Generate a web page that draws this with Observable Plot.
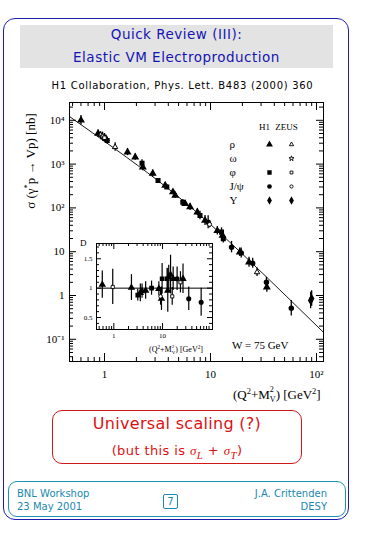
<!DOCTYPE html>
<html><head><meta charset="utf-8">
<script src="https://cdn.jsdelivr.net/npm/d3@7"></script>
<script src="https://cdn.jsdelivr.net/npm/@observablehq/plot@0.6"></script>
<style>
body{margin:0;background:#fff;width:365px;height:535px;position:relative;overflow:hidden;font-family:"DejaVu Sans",sans-serif;}
.abs{position:absolute;white-space:nowrap;line-height:1;}
.serif{font-family:"Liberation Serif",serif;}
.stk{display:inline-block;vertical-align:-0.3em;line-height:1.2;font-size:0.62em;text-align:left;}
.stk span{display:block;}
</style></head><body>
<div class="abs" style="left:3px;top:18px;width:344px;height:500px;border:1.5px solid #1c1cb0;border-radius:12px;"></div>
<div class="abs" style="left:20px;top:25px;width:313px;height:43px;background:#e3e3e3;"></div>
<div class="abs" style="left:20px;top:28px;width:313px;text-align:center;color:#1414b4;font-size:13.5px;letter-spacing:0.5px;">Quick Review (III):</div>
<div class="abs" style="left:20px;top:50.5px;width:313px;text-align:center;color:#1414b4;font-size:13.5px;letter-spacing:0.5px;">Elastic VM Electroproduction</div>
<div class="abs" style="left:20px;top:80.5px;width:325px;text-align:center;color:#000;font-size:10px;letter-spacing:0.7px;">H1 Collaboration, Phys. Lett. B483 (2000) 360</div>
<div class="abs serif" style="left:30px;top:161px;transform:translate(-50%,-50%) rotate(-90deg);font-size:13px;">σ (γ<sup style="font-size:0.65em">*</sup>p → Vp) [nb]</div>
<div id="main" class="abs" style="left:0;top:80px;"></div>
<div id="legend" class="abs" style="left:222px;top:112px;"></div>
<div id="inset" class="abs" style="left:70px;top:235px;"></div>
<div class="abs serif" style="left:80px;top:239px;font-size:9px;">D</div>
<div class="abs serif" style="left:149px;top:344px;font-size:8px;">(Q<sup style="font-size:0.65em">2</sup>+M<span class="stk"><span>2</span><span>V</span></span>) [GeV<sup style="font-size:0.65em">2</sup>]</div>
<div class="abs serif" style="left:232px;top:339.5px;font-size:11px;">W = 75 GeV</div>
<div class="abs serif" style="left:233px;top:385px;font-size:13px;">(Q<sup style="font-size:0.65em">2</sup>+M<span class="stk"><span>2</span><span>V</span></span>) [GeV<sup style="font-size:0.65em">2</sup>]</div>
<div class="abs" style="left:52px;top:410px;width:248px;height:52px;border:1.3px solid #d01818;border-radius:10px;"></div>
<div class="abs" style="left:52px;top:415.5px;width:250px;text-align:center;color:#dd1111;font-size:16px;letter-spacing:0.3px;">Universal scaling (?)</div>
<div class="abs" style="left:52px;top:444px;width:250px;text-align:center;color:#dd1111;font-size:13px;letter-spacing:0.4px;">(but this is <i class="serif">σ<sub>L</sub></i> + <i class="serif">σ<sub>T</sub></i>)</div>
<div class="abs" style="left:8px;top:481px;width:336px;height:34px;border:1.2px solid #2090b8;border-radius:9px;"></div>
<div class="abs" style="left:17px;top:489px;color:#1a88b0;font-size:10px;">BNL Workshop</div>
<div class="abs" style="left:17px;top:502px;color:#1a88b0;font-size:10px;">23 May 2001</div>
<div class="abs" style="left:163px;top:494px;width:13px;height:13px;border:1.2px solid #1a88b0;border-radius:2px;color:#1a88b0;font-size:10px;text-align:center;line-height:13px;">7</div>
<div class="abs" style="right:38px;top:489px;color:#1a88b0;font-size:10px;">J.A. Crittenden</div>
<div class="abs" style="right:38px;top:502px;color:#1a88b0;font-size:10px;">DESY</div>
<script>
// ---------- data ----------
const mainX   = [0.60, 0.87, 0.92, 0.96, 1.00, 1.03, 1.06, 1.26, 1.65, 1.95, 2.26, 2.30, 2.85, 3.20, 3.74, 3.87, 4.42, 4.65, 5.48, 5.77, 6.42, 7.52, 7.96, 8.88, 9.5, 9.8, 11.6, 12.7, 13.0, 13.2, 15.8, 18.9, 19.5, 23.1, 25.0, 27.5, 33.7, 34.0, 57.8, 88, 90];
const mainY   = [10000, 5000, 4600, 4300, 4000, 3800, 3460, 2450, 1870, 1440, 1050, 850, 610, 420, 325, 300, 230, 192, 135, 124, 105, 80, 67, 51.5, 47, 42, 30, 28, 23.5, 19.7, 12.7, 9.75, 9.3, 5.76, 5.45, 3.4, 2.0, 1.55, 0.51, 0.77, 0.85];
const mainErr = [0.28, 0.2, 0.2, 0.25, 0.25, 0.2, 0.2, 0.25, 0.2, 0.18, 0.2, 0.2, 0.2, 0.12, 0.12, 0.12, 0.15, 0.15, 0.15, 0.15, 0.2, 0.2, 0.25, 0.3, 0.4, 0.2, 0.25, 0.25, 0.3, 0.25, 0.35, 0.25, 0.3, 0.3, 0.3, 0.25, 0.3, 0.3, 0.5, 0.55, 0.5];
const mainVM  = ["rho","rho","rho","omega","phi","rho","phi","rho","rho","rho","phi","rho","rho","phi","rho","phi","rho","rho","phi","rho","rho","rho","phi","rho","jpsi","jpsi","rho","phi","rho","phi","jpsi","rho","jpsi","rho","jpsi","rho","jpsi","rho","jpsi","ups","ups"];
const mainExp = ["H1","H1","ZEUS","ZEUS","ZEUS","H1","H1","ZEUS","H1","H1","H1","H1","H1","H1","H1","H1","H1","H1","H1","H1","H1","H1","H1","H1","H1","ZEUS","H1","H1","H1","H1","H1","H1","H1","H1","H1","ZEUS","H1","H1","H1","ZEUS","H1"];

const fitX = [0.4677, 3.16, 15.2, 116];
const fitY = [12200, 427, 16.5, 0.145];

const insX = [0.58, 0.95, 2.3, 3.1, 3.5, 3.8, 4.5, 5.95, 8.4, 9.1, 9.5, 9.8, 12.4, 12.8, 13.4, 14.6, 15.8, 16.5, 19.9, 23.3, 26.3, 34.5, 62];
const insR = [1.06, 1.02, 1.01, 0.88, 0.92, 0.95, 0.96, 1.0, 0.99, 0.86, 0.82, 1.16, 1.16, 0.96, 1.19, 1.23, 0.86, 1.16, 1.16, 1.10, 1.16, 0.82, 0.76];
const insE = [0.23, 0.3, 0.22, 0.1, 0.15, 0.12, 0.15, 0.12, 0.12, 0.15, 0.2, 0.26, 0.18, 0.37, 0.2, 0.33, 0.15, 0.2, 0.2, 0.18, 0.25, 0.2, 0.24];
const insVM  = ["rho","phi","rho","phi","rho","rho","rho","phi","rho","jpsi","rho","phi","phi","rho","rho","rho","phi","rho","jpsi","phi","rho","jpsi","jpsi"];
const insExp = ["H1","ZEUS","H1","H1","H1","H1","H1","H1","H1","ZEUS","H1","H1","H1","H1","H1","H1","ZEUS","H1","H1","ZEUS","H1","H1","H1"];

const legendVM = ["rho","omega","phi","jpsi","ups"];
const legendNames = ["ρ","ω","φ","J/ψ","Υ"];
const legendExp = ["H1","ZEUS"];
const legendH1 = ["rho","phi","jpsi","ups"];
const legendZEUS = ["rho","omega","phi","jpsi","ups"];
const filledVM = ["ups"]; // ZEUS Upsilon drawn filled

const yTickValues = [0.1, 1, 10, 100, 1000, 10000];
const yTickLabels = ["10⁻¹", "1", "10", "10²", "10³", "10⁴"];
const xTickValues = [1, 10, 100];
const xTickLabels = ["1", "10", "10²"];
const insXTicks = [1, 10];
const insXLabels = ["1", "10"];
const insYTicks = [0.5, 1, 1.5];
const insYLabels = ["0.5", "1", "1.5"];

// ---------- helpers ----------
const symbolScale = {domain: legendVM, range: ["triangle", "star", "square", "circle", "diamond"]};
function minorLog(lo, hi, dmin, dmax) { const out = []; for (let e = lo; e <= hi; e++) for (let m = 2; m <= 9; m++) { const v = m * Math.pow(10, e); if (v > dmin && v < dmax) out.push(v); } return out; }
const isFilled = d => d.exp === "H1" || filledVM.includes(d.vm);

const mainData = mainX.map((x, i) => ({x, y: mainY[i], lo: mainY[i] / (1 + mainErr[i]), hi: mainY[i] * (1 + mainErr[i]), vm: mainVM[i], exp: mainExp[i]}));
const fitData = fitX.map((x, i) => ({x, y: fitY[i]}));
const insData = insX.map((x, i) => ({x, r: insR[i], lo: insR[i] - insE[i], hi: insR[i] + insE[i], vm: insVM[i], exp: insExp[i]}));

// ---------- main plot ----------
const W = 345, H = 330, ML = 69, MR = 22, MT = 22, MB = 49;
const FW = W - ML - MR, FH = H - MT - MB;
const xDom = [0.4677, 116.4], yDom = [0.0311, 25500];
const yMinor = minorLog(-2, 4, yDom[0], yDom[1]), xMinor = minorLog(-1, 2, xDom[0], xDom[1]);
const main = Plot.plot({
  width: W, height: H, marginLeft: ML, marginRight: MR, marginTop: MT, marginBottom: MB,
  x: {type: "log", domain: xDom},
  y: {type: "log", domain: yDom},
  symbol: symbolScale,
  style: {fontFamily: "Liberation Serif", fontSize: "11px", color: "#000", background: "transparent"},
  marks: [
    Plot.frame({stroke: "#000", strokeWidth: 1}),
    Plot.tickY(yTickValues, {y: d => d, insetRight: FW - 7}),
    Plot.tickY(yTickValues, {y: d => d, insetLeft: FW - 7}),
    Plot.tickY(yMinor, {y: d => d, insetRight: FW - 4}),
    Plot.tickY(yMinor, {y: d => d, insetLeft: FW - 4}),
    Plot.tickX(xTickValues, {x: d => d, insetTop: FH - 8}),
    Plot.tickX(xTickValues, {x: d => d, insetBottom: FH - 8}),
    Plot.tickX(xMinor, {x: d => d, insetTop: FH - 4}),
    Plot.tickX(xMinor, {x: d => d, insetBottom: FH - 4}),
    Plot.axisY({ticks: yTickValues, tickSize: 0, tickPadding: 5, tickFormat: d => yTickLabels[yTickValues.indexOf(d)], fontSize: 11, label: null}),
    Plot.axisX({ticks: xTickValues, tickSize: 0, tickPadding: 9, tickFormat: d => xTickLabels[xTickValues.indexOf(d)], fontSize: 11, label: null}),
    Plot.line(fitData, {x: "x", y: "y", curve: "natural", stroke: "#000", strokeWidth: 0.9}),
    Plot.ruleX(mainData, {x: "x", y1: "lo", y2: "hi", stroke: "#000", strokeWidth: 1.3}),
    Plot.dot(mainData.filter(isFilled), {x: "x", y: "y", symbol: "vm", r: 2, fill: "#000", stroke: "#000"}),
    Plot.dot(mainData.filter(d => !isFilled(d)), {x: "x", y: "y", symbol: "vm", r: 2, fill: "#fff", stroke: "#000", strokeWidth: 1})
  ]
});
document.getElementById("main").appendChild(main);

// ---------- legend ----------
const legRows = [
  ...legendH1.map(v => ({vm: v, exp: "H1"})),
  ...legendZEUS.map(v => ({vm: v, exp: "ZEUS"}))
];
const legend = Plot.plot({
  width: 80, height: 98.25, marginLeft: 35.5, marginRight: 0.5, marginTop: 23.75, marginBottom: 2,
  x: {type: "band", domain: legendExp, padding: 0},
  y: {type: "band", domain: legendVM, padding: 0},
  symbol: symbolScale,
  style: {fontFamily: "Liberation Serif", color: "#000", background: "transparent", overflow: "visible"},
  marks: [
    Plot.axisX({anchor: "top", tickSize: 0, tickPadding: 6, dx: -5, fontSize: 9, label: null}),
    Plot.axisY({anchor: "left", tickSize: 0, tickPadding: 0, dx: -28.5, textAnchor: "start", fontSize: 11, label: null,
      tickFormat: d => legendNames[legendVM.indexOf(d)]}),
    Plot.dot(legRows.filter(isFilled), {x: "exp", y: "vm", symbol: "vm", r: 1.6, fill: "#000", stroke: "#000"}),
    Plot.dot(legRows.filter(d => !isFilled(d)), {x: "exp", y: "vm", symbol: "vm", r: 1.6, fill: "#fff", stroke: "#000", strokeWidth: 0.9})
  ]
});
document.getElementById("legend").appendChild(legend);

// ---------- inset ----------
const IW = 150, IH = 110, IML = 26, IMR = 8, IMT = 8, IMB = 16;
const IFW = IW - IML - IMR, IFH = IH - IMT - IMB;
const insXDom = [0.441, 106], insYDom = [0.296, 1.76];
const insYMinor = [0.4, 0.6, 0.7, 0.8, 0.9, 1.1, 1.2, 1.3, 1.4, 1.6, 1.7];
const insXMinor = minorLog(-1, 2, insXDom[0], insXDom[1]);
const inset = Plot.plot({
  width: IW, height: IH, marginLeft: IML, marginRight: IMR, marginTop: IMT, marginBottom: IMB,
  x: {type: "log", domain: insXDom},
  y: {domain: insYDom},
  symbol: symbolScale,
  style: {fontFamily: "Liberation Serif", color: "#000", background: "transparent"},
  marks: [
    Plot.frame({stroke: "#000", strokeWidth: 1, fill: "#fff"}),
    Plot.tickY(insYTicks, {y: d => d, insetRight: IFW - 5}),
    Plot.tickY(insYTicks, {y: d => d, insetLeft: IFW - 5}),
    Plot.tickY(insYMinor, {y: d => d, insetRight: IFW - 3}),
    Plot.tickY(insYMinor, {y: d => d, insetLeft: IFW - 3}),
    Plot.tickX(insXTicks, {x: d => d, insetTop: IFH - 6}),
    Plot.tickX(insXTicks, {x: d => d, insetBottom: IFH - 6}),
    Plot.tickX(insXMinor, {x: d => d, insetTop: IFH - 3}),
    Plot.tickX(insXMinor, {x: d => d, insetBottom: IFH - 3}),
    Plot.axisY({ticks: insYTicks, tickSize: 0, tickPadding: 4, tickFormat: d => insYLabels[insYTicks.indexOf(d)], fontSize: 7, label: null}),
    Plot.axisX({ticks: insXTicks, tickSize: 0, tickPadding: 4, tickFormat: d => insXLabels[insXTicks.indexOf(d)], fontSize: 7, label: null}),
    Plot.ruleY([1], {stroke: "#000", strokeWidth: 1}),
    Plot.ruleX(insData, {x: "x", y1: "lo", y2: "hi", stroke: "#000", strokeWidth: 1.2}),
    Plot.dot(insData.filter(isFilled), {x: "x", y: "r", symbol: "vm", r: 1.8, fill: "#000", stroke: "#000"}),
    Plot.dot(insData.filter(d => !isFilled(d)), {x: "x", y: "r", symbol: "vm", r: 1.8, fill: "#fff", stroke: "#000", strokeWidth: 0.9})
  ]
});
document.getElementById("inset").appendChild(inset);
</script>
</body></html>
